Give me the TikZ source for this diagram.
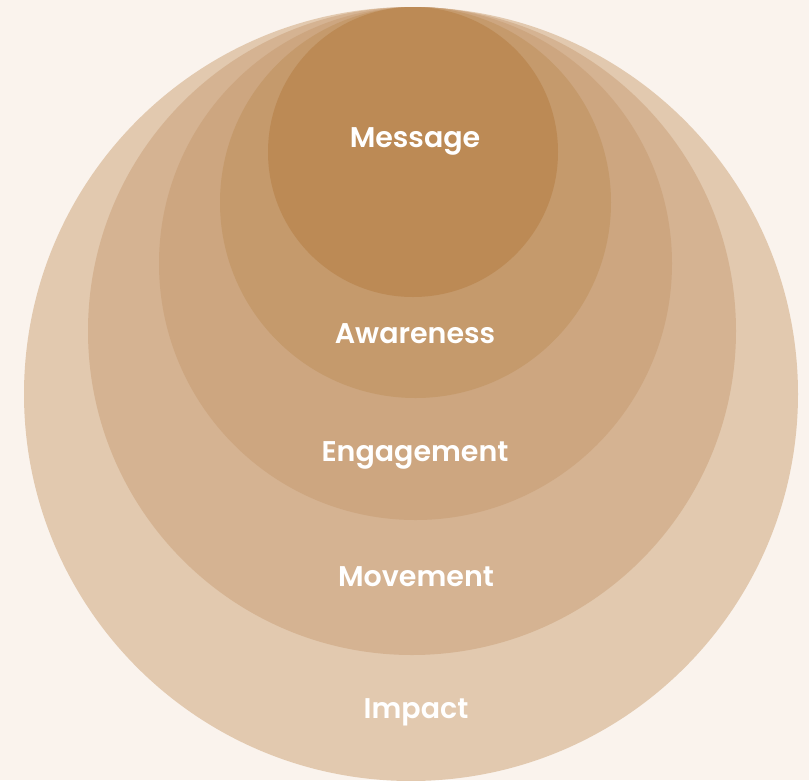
\documentclass[tikz,border=0pt]{standalone}
\usepackage{fontspec}
\setmainfont{Poppins}[UprightFont=* SemiBold]
\definecolor{bg}{HTML}{FAF3ED}
\definecolor{cimpact}{HTML}{E2C9AF}
\definecolor{cmove}{HTML}{D5B392}
\definecolor{cengage}{HTML}{CDA680}
\definecolor{caware}{HTML}{C59A6C}
\definecolor{cmsg}{HTML}{BC8A55}
\tikzset{
  ring/.style={circle, inner sep=0pt, draw=none},
  lbl/.style={text=white, font=\fontsize{28.5}{32}\selectfont, inner sep=0pt, anchor=center}
}
\begin{document}
\begin{tikzpicture}[x=1pt,y=-1pt]
\fill[bg] (0,0) rectangle (809,780);
\useasboundingbox (0,0) rectangle (809,780);
\node[ring, fill=cimpact, minimum size=774pt] (impact) at (411,394) {};
\node[ring, fill=cmove, minimum size=648pt] (movement) at (412,331) {};
\node[ring, fill=cengage, minimum size=513pt] (engagement) at (415.5,263.5) {};
\node[ring, fill=caware, minimum size=391pt] (awareness) at (415.5,202.5) {};
\node[ring, fill=cmsg, minimum size=290pt] (message) at (413,152) {};
\node[lbl] (tmsg) at (415,141) {Message};
\node[lbl] (taware) at (415,334) {Awareness};
\node[lbl] (tengage) at (415,455) {Engagement};
\node[lbl] (tmove) at (416,577) {Movement};
\node[lbl] (timpact) at (416,712) {Impact};
\end{tikzpicture}
\end{document}
